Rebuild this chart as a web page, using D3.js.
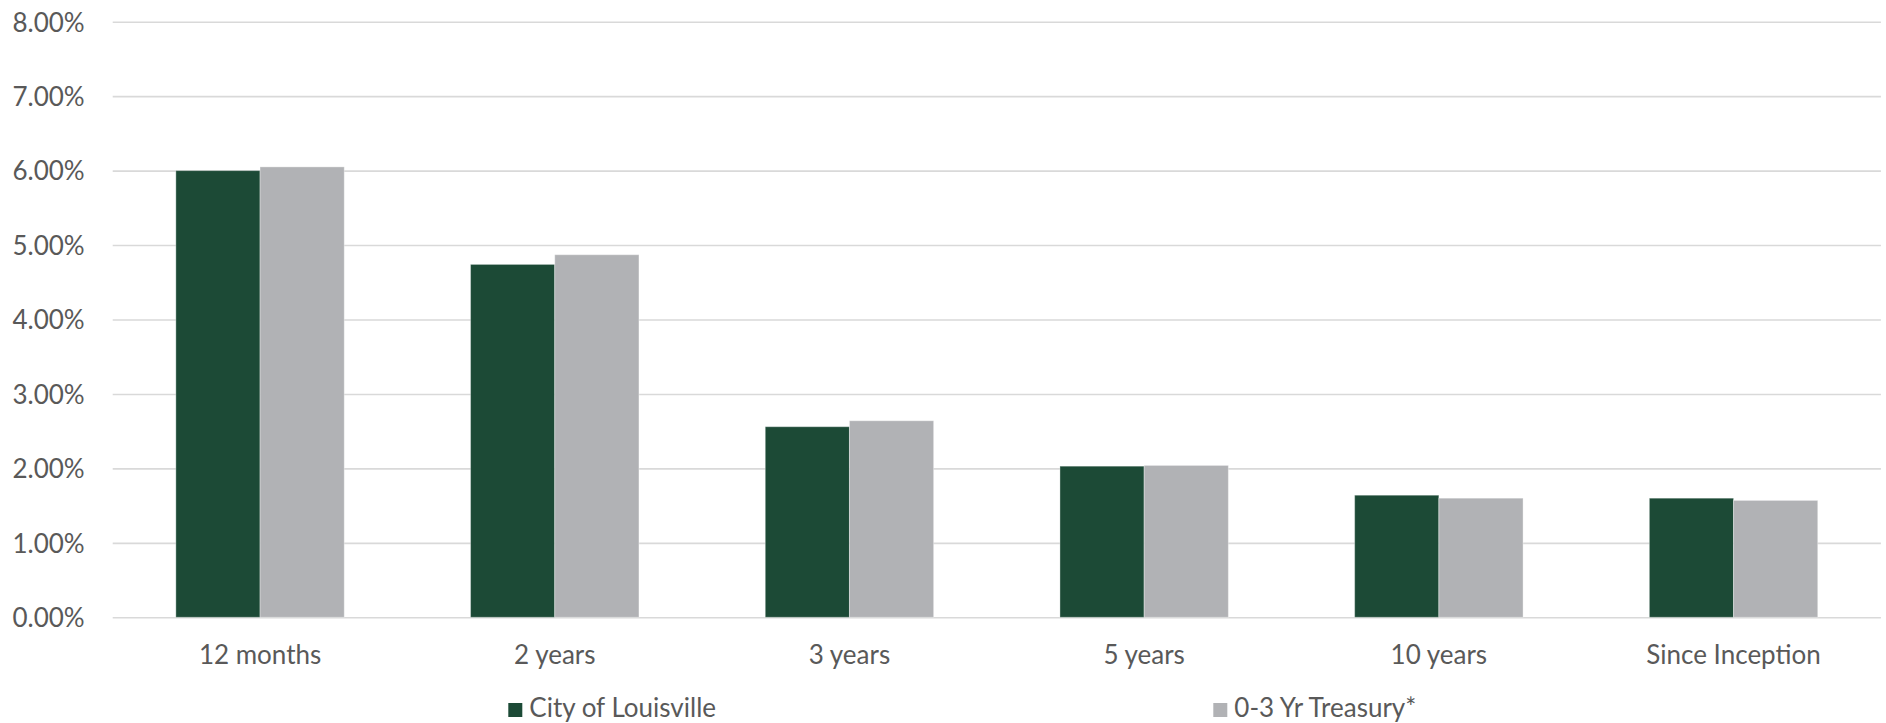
<!DOCTYPE html>
<html>
<head>
<meta charset="utf-8">
<script src="https://cdn.jsdelivr.net/npm/d3@7"></script>
<style>
  html, body { margin: 0; padding: 0; background: #ffffff; }
  svg { display: block; }
  text { font-family: Lato, "Open Sans", sans-serif; fill: #595959; }
</style>
</head>
<body>
<svg id="chart" width="1886" height="723"></svg>
<script>
const categories = ["12 months", "2 years", "3 years", "5 years", "10 years", "Since Inception"];
const seriesNames = ["City of Louisville", "0-3 Yr Treasury*"];
const cityValues = [6.00, 4.74, 2.56, 2.03, 1.64, 1.60];
const treasuryValues = [6.05, 4.87, 2.64, 2.04, 1.60, 1.57];
const yTicks = [0, 1, 2, 3, 4, 5, 6, 7, 8];
const colors = ["#1C4A36", "#B1B2B5"];

(function () {
const svg = d3.select("#chart");
const plotL = 112.7, plotR = 1880.9, plotT = 21.7, plotB = 617.3;

const y = d3.scaleLinear().domain([0, 8]).range([plotB, plotT]);
const x0 = d3.scaleBand().domain(categories).range([plotL, plotR])
  .paddingInner(3 / 7).paddingOuter(3 / 14);
const x1 = d3.scaleBand().domain(seriesNames).range([0, x0.bandwidth()]).padding(0);

// gridlines
const yAxis = d3.axisLeft(y).tickValues(yTicks).tickSize(-(plotR - plotL)).tickPadding(28)
  .tickFormat(d => d3.format(".2f")(d) + "%");
const gy = svg.append("g").attr("transform", `translate(${plotL},0)`).call(yAxis);
gy.select(".domain").remove();
gy.selectAll(".tick line").attr("stroke", "#D9D9D9").attr("stroke-width", 1.6);
gy.selectAll(".tick text").attr("font-size", 26).attr("fill", "#595959")
  .style("font-family", "Lato, sans-serif").attr("dy", "0.36em");

const data = categories.map((c, i) => ({ cat: c, vals: [cityValues[i], treasuryValues[i]] }));

const groups = svg.append("g").selectAll("g").data(data).join("g")
  .attr("transform", d => `translate(${x0(d.cat)},0)`);
groups.selectAll("rect").data(d => d.vals.map((v, j) => ({ name: seriesNames[j], v, j })))
  .join("rect")
  .attr("x", d => x1(d.name))
  .attr("width", x1.bandwidth())
  .attr("y", d => y(d.v))
  .attr("height", d => y(0) - y(d.v))
  .attr("fill", d => colors[d.j])
  .attr("stroke", "#ffffff").attr("stroke-opacity", 0.35).attr("stroke-width", 1);

// category axis labels
const xAxis = d3.axisBottom(x0).tickSize(0).tickPadding(0);
const gx = svg.append("g").attr("transform", `translate(0,${plotB})`).call(xAxis);
gx.select(".domain").remove();
gx.selectAll(".tick text").attr("font-size", 26).attr("fill", "#595959")
  .style("font-family", "Lato, sans-serif").attr("y", 46.7).attr("dy", 0);

// legend
const legendX = [508.3, 1213.3];
const lg = svg.append("g").selectAll("g").data(seriesNames).join("g")
  .attr("transform", (d, i) => `translate(${legendX[i]},703)`);
lg.append("rect").attr("width", 14).attr("height", 14).attr("fill", (d, i) => colors[i]);
lg.append("text").attr("x", 21).attr("y", 13.7).attr("font-size", 26).text(d => d);
})();
</script>
</body>
</html>
